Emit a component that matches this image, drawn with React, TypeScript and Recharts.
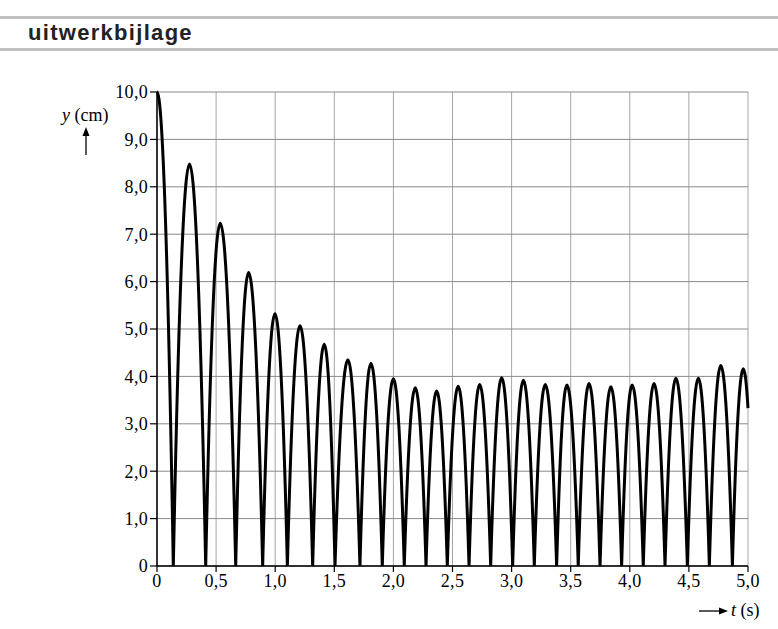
import { LineChart, Line, XAxis, YAxis, CartesianGrid } from "recharts"

// tops of each bounce, and the moments the ball hits the floor
const peakTimes = [0, 0.275, 0.535, 0.775, 0.998, 1.21, 1.415, 1.615, 1.81, 2.0, 2.185, 2.366, 2.548, 2.73, 2.916, 3.1, 3.285, 3.468, 3.655, 3.84, 4.02, 4.205, 4.39, 4.58, 4.77, 4.96]
const peakHeights = [10.0, 8.48, 7.23, 6.19, 5.32, 5.07, 4.68, 4.35, 4.28, 3.95, 3.76, 3.69, 3.79, 3.83, 3.97, 3.92, 3.83, 3.82, 3.85, 3.78, 3.82, 3.85, 3.96, 3.96, 4.23, 4.16]
const bounceTimes = [0.138, 0.412, 0.666, 0.894, 1.103, 1.317, 1.506, 1.717, 1.906, 2.092, 2.276, 2.456, 2.64, 2.823, 3.009, 3.192, 3.381, 3.564, 3.748, 3.931, 4.114, 4.298, 4.487, 4.673, 4.868]
const endTime = 5.0
const endHeight = 3.33

const xTicks = [0, 0.5, 1, 1.5, 2, 2.5, 3, 3.5, 4, 4.5, 5]
const yTicks = [0, 1, 2, 3, 4, 5, 6, 7, 8, 9, 10]

const data: { t: number; y: number }[] = []
peakTimes.forEach((t, i) => {
  data.push({ t, y: peakHeights[i] })
  if (i < bounceTimes.length) data.push({ t: bounceTimes[i], y: 0 })
})
data.push({ t: endTime, y: endHeight })

// each piece between a top and a floor hit is half a parabola -> one quadratic bezier
const parabolicArcs = (context: any) => {
  let pts: number[][] = []
  return {
    areaStart() {},
    areaEnd() {},
    lineStart() {
      pts = []
    },
    point(x: number, y: number) {
      pts.push([+x, +y])
    },
    lineEnd() {
      if (!pts.length) return
      context.moveTo(pts[0][0], pts[0][1])
      for (let i = 1; i < pts.length; i++) {
        const [x0, y0] = pts[i - 1]
        const [x1, y1] = pts[i]
        context.quadraticCurveTo((x0 + x1) / 2, Math.min(y0, y1), x1, y1)
      }
    },
  }
}

const fmt = (v: number) => (v === 0 ? "0" : v.toFixed(1).replace(".", ","))

const serif = "'Liberation Serif', 'Times New Roman', serif"
const tickStyle = { fill: "#000", fontSize: 18, fontFamily: serif, letterSpacing: 0.3 }

export default function App() {
  return (
    <div style={{ position: "absolute", left: 0, top: 0, width: 778, height: 629, background: "#fff" }}>
      <LineChart width={778} height={629} data={data} margin={{ top: 92, right: 30, left: 107, bottom: 33 }}>
        <CartesianGrid horizontal={false} stroke="#a6a6a6" strokeWidth={1} />
        <CartesianGrid vertical={false} stroke="#8a8a8a" strokeWidth={1} />
        <XAxis
          type="number"
          dataKey="t"
          domain={[0, 5]}
          ticks={xTicks}
          tickFormatter={fmt}
          height={30}
          tickSize={6}
          tickMargin={2}
          axisLine={{ stroke: "#000", strokeWidth: 1.5 }}
          tickLine={{ stroke: "#000", strokeWidth: 1.2 }}
          tick={tickStyle}
          interval={0}
        />
        <YAxis
          type="number"
          domain={[0, 10]}
          ticks={yTicks}
          tickFormatter={fmt}
          width={50}
          tickSize={7}
          tickMargin={2}
          axisLine={{ stroke: "#000", strokeWidth: 1.5 }}
          tickLine={{ stroke: "#000", strokeWidth: 1.2 }}
          tick={tickStyle}
          interval={0}
        />
        <Line
          dataKey="y"
          type={parabolicArcs as any}
          stroke="#000"
          strokeWidth={3}
          dot={false}
          activeDot={false}
          isAnimationActive={false}
        />
      </LineChart>
      <svg width={778} height={629} style={{ position: "absolute", left: 0, top: 0, pointerEvents: "none" }}>
        <rect x={0} y={16} width={778} height={3} fill="#c0c0c0" />
        <rect x={0} y={48} width={778} height={3} fill="#c0c0c0" />
        <text x={28} y={40} fontFamily="'Liberation Sans', Arial, sans-serif" fontWeight="bold" fontSize={22} letterSpacing={1.3} fill="#222">
          uitwerkbijlage
        </text>

        <text x={62} y={121} fontFamily={serif} fontSize={18} fill="#000">
          <tspan fontStyle="italic">y</tspan> (cm)
        </text>
        <line x1={86} y1={155} x2={86} y2={133} stroke="#000" strokeWidth={1.3} />
        <polygon points="86,127 82.5,136 89.5,136" fill="#000" />

        <line x1={699} y1={611} x2={721} y2={611} stroke="#000" strokeWidth={1.3} />
        <polygon points="728,611 719,607.5 719,614.5" fill="#000" />
        <text x={731} y={616} fontFamily={serif} fontSize={18} fill="#000">
          <tspan fontStyle="italic">t</tspan> (s)
        </text>
      </svg>
    </div>
  )
}
